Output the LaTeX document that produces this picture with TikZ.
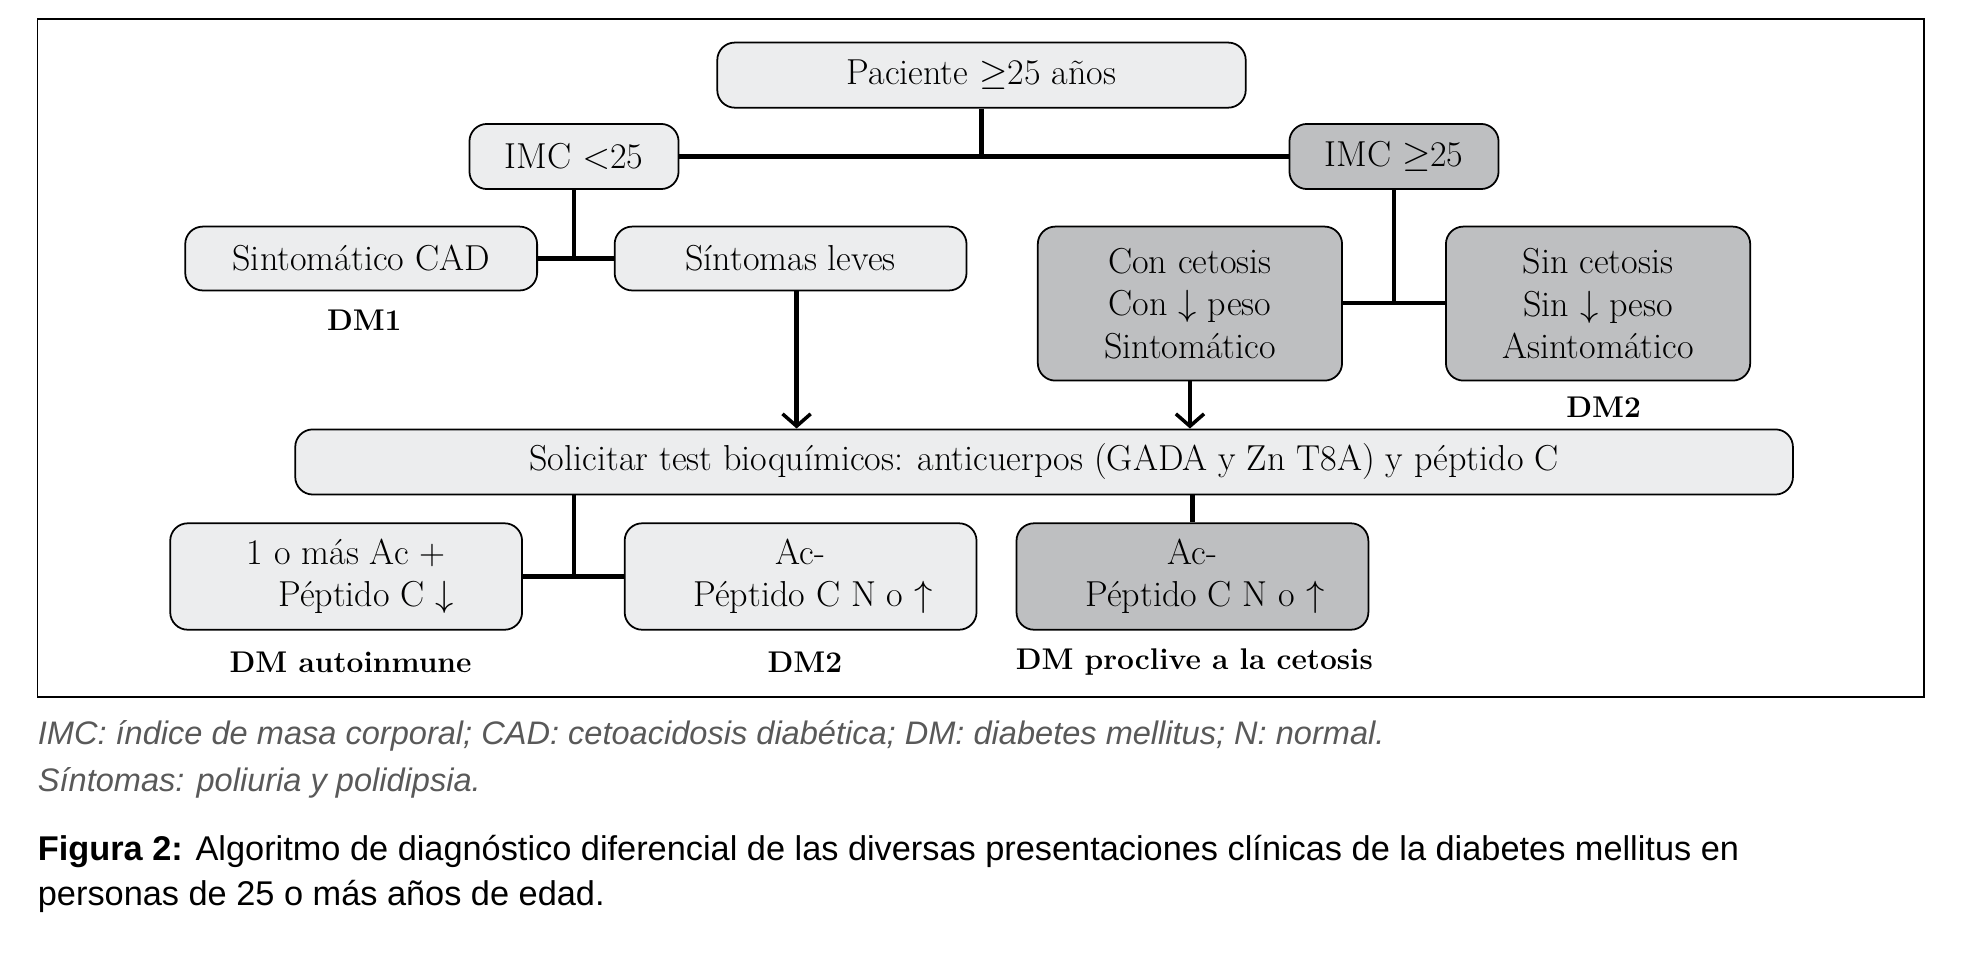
\documentclass[tikz,border=0pt]{standalone}
\usepackage{fontspec}
\usetikzlibrary{arrows.meta}
\newfontfamily\capfont{Liberation Sans}
\begin{document}
\begin{tikzpicture}[x=0.025cm,y=-0.025cm,
  box/.style={draw=black,line width=1pt,rounded corners=0.35cm,align=center,inner sep=0pt,font=\fontsize{20.5}{24}\selectfont},
  lbox/.style={box,fill=light},
  dbox/.style={box,fill=dark},
  conn/.style={line width=2.4pt},
  arr/.style={conn,-{Straight Barb[length=7pt,width=16pt,line width=2pt]}},
  lab/.style={font=\fontsize{17}{21}\selectfont\bfseries}]
\definecolor{light}{HTML}{ECEDEE}
\definecolor{dark}{HTML}{BEBFC1}
\useasboundingbox (0,0) rectangle (1568,764);
\draw[line width=1pt] (30,15) rectangle (1537,557);
\node[lbox,minimum width=10.55cm,minimum height=1.3cm] (pac) at (784,60) {Paciente $\geq$25 años};
\node[lbox,minimum width=4.175cm,minimum height=1.3cm] (imcl) at (458.5,125) {IMC $<$25};
\node[dbox,minimum width=4.175cm,minimum height=1.3cm] (imch) at (1113.5,125) {IMC $\geq$25};
\node[lbox,minimum width=7.025cm,minimum height=1.275cm] (cad) at (288.5,206.5) {Sintomático CAD};
\node[lbox,minimum width=7.025cm,minimum height=1.275cm] (lev) at (631.5,206.5) {Síntomas leves};
\node[dbox,minimum width=6.075cm,minimum height=3.075cm] (con) at (950.5,242.5) {Con cetosis\\Con $\downarrow$ peso\\Sintomático};
\node[dbox,minimum width=6.075cm,minimum height=3.075cm] (sin) at (1276.5,242.5) {Sin cetosis\\Sin $\downarrow$ peso\\Asintomático};
\node[lbox,minimum width=29.9cm,minimum height=1.3cm] (sol) at (834,369) {Solicitar test bioquímicos: anticuerpos (GADA y Zn T8A) y péptido C};
\node[lbox,minimum width=7.025cm,minimum height=2.125cm] (mas) at (276.5,460.5) {1 o más Ac +\\\hspace*{0.8cm}Péptido C $\downarrow$};
\node[lbox,minimum width=7.025cm,minimum height=2.125cm] (acn) at (639.5,460.5) {Ac-\\\hspace*{0.5cm}Péptido C N o $\uparrow$};
\node[dbox,minimum width=7.025cm,minimum height=2.125cm] (acd) at (952.5,460.5) {Ac-\\\hspace*{0.5cm}Péptido C N o $\uparrow$};
\node[lab] (l1) at (291,256) {DM1};
\node[lab] (l2) at (1281,325) {DM2};
\node[lab] (l3) at (280,529) {DM autoinmune};
\node[lab] (l4) at (643,529) {DM2};
\node[lab] (l5) at (954,529) {DM proclive a la cetosis};
\draw[conn] (pac.south) -- (pac.south |- imcl.east);
\draw[conn] (imcl.east) -- (imch.west);
\draw[conn] (imcl.south) -- (imcl.south |- cad.east);
\draw[conn] (cad.east) -- (lev.west);
\draw[conn] (imch.south) -- (imch.south |- 0,242);
\draw[conn] (con.east |- 0,242) -- (sin.west |- 0,242);
\draw[arr] ([xshift=0.12cm]lev.south) -- ([xshift=0.12cm]lev.south |- sol.north);
\draw[arr] (con.south) -- (con.south |- sol.north);
\draw[conn] (sol.south -| imcl.south) -- (mas.east -| imcl.south);
\draw[conn] (mas.east) -- (acn.west);
\draw[conn] (sol.south -| acd.north) -- (acd.north);
\node[anchor=west,text=black!65,font=\capfont\itshape\fontsize{18.5}{22}\selectfont,inner sep=0pt] (f1) at (30,588) {IMC: índice de masa corporal; CAD: cetoacidosis diabética; DM: diabetes mellitus; N: normal.};
\node[anchor=west,text=black!65,font=\capfont\itshape\fontsize{18.5}{22}\selectfont,inner sep=0pt] (f2) at (30,625) {Síntomas: poliuria y polidipsia.};
\node[anchor=west,font=\capfont\fontsize{19.5}{23}\selectfont,inner sep=0pt] (c1) at (30,680) {\textbf{Figura 2:} Algoritmo de diagnóstico diferencial de las diversas presentaciones clínicas de la diabetes mellitus en};
\node[anchor=west,font=\capfont\fontsize{19.5}{23}\selectfont,inner sep=0pt] (c2) at (30,716) {personas de 25 o más años de edad.};
\end{tikzpicture}
\end{document}
